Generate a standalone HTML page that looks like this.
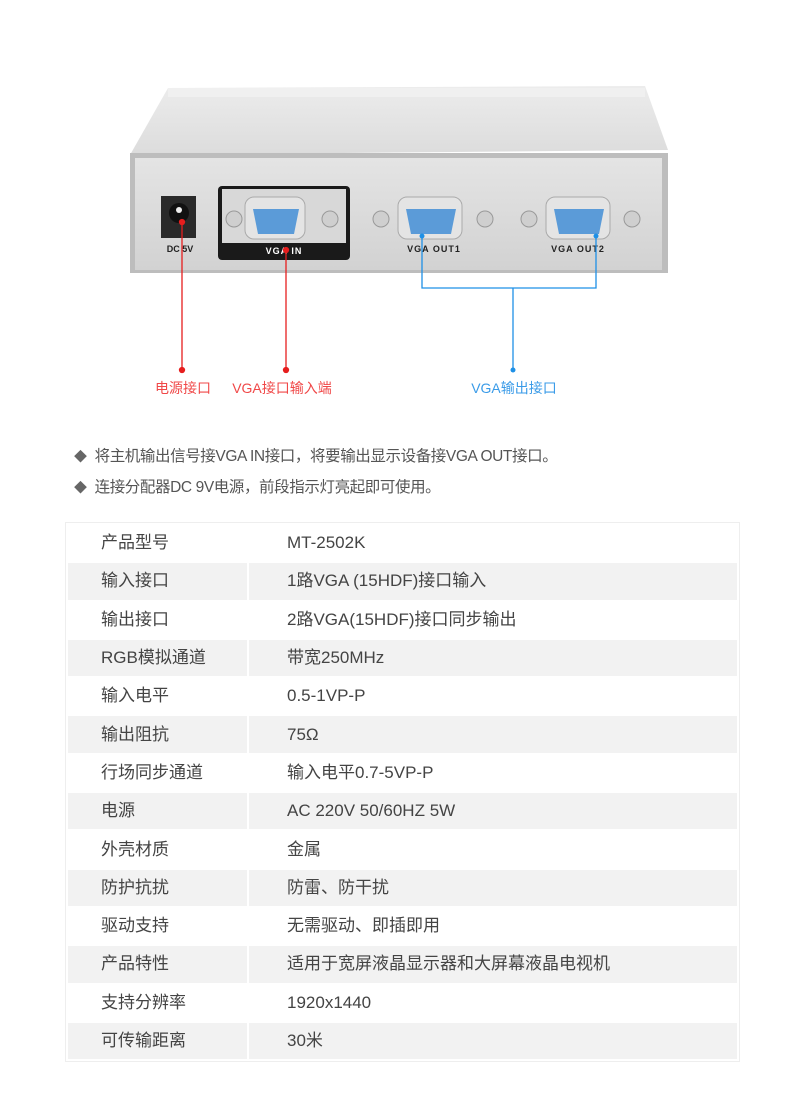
<!DOCTYPE html>
<html><head><meta charset="utf-8"><style>
body{margin:0;width:790px;height:1094px;background:#fff;font-family:"Liberation Sans","Noto Sans CJK SC",sans-serif;position:relative;overflow:hidden}
.note{position:absolute;left:74px;font-size:15.5px;color:#555;letter-spacing:-0.4px}
.note b{font-weight:normal;color:#666;font-size:13px;margin-right:8px}
table{position:absolute;left:66px;top:523px;width:673px;border-collapse:collapse;font-size:17px;color:#444;table-layout:fixed;outline:1px solid #eee}
td{height:36.3px;border:2px solid #fff;padding:0;line-height:34px;white-space:nowrap}
td:first-child{padding-left:33px}
td:last-child{padding-left:38px}
tr:nth-child(even) td{background:#f2f2f2}
</style></head><body>
<svg width="790" height="440" style="position:absolute;left:0;top:0">
<defs>
<linearGradient id="top" x1="0" y1="0" x2="0" y2="1"><stop offset="0" stop-color="#ececec"/><stop offset="1" stop-color="#dcdcdc"/></linearGradient>
<linearGradient id="face" x1="0" y1="0" x2="0" y2="1"><stop offset="0" stop-color="#e4e4e4"/><stop offset="1" stop-color="#d2d2d2"/></linearGradient>
</defs>
<polygon points="168,88 645,86 668,150 130,155" fill="url(#top)"/>
<rect x="168" y="88" width="477" height="9" fill="#f0f0f0"/>
<rect x="130" y="153" width="538" height="120" fill="#bdbdbd"/>
<rect x="135" y="158" width="527" height="112" fill="url(#face)"/>
<rect x="161" y="196" width="35" height="42" fill="#2a2a2a"/>
<circle cx="179" cy="213" r="10" fill="#111"/><circle cx="179" cy="210" r="3" fill="#eee"/>
<text x="180" y="252" font-size="9" font-weight="bold" text-anchor="middle" fill="#222" font-family="Liberation Sans">DC 5V</text>
<rect x="218" y="186" width="132" height="74" rx="4" fill="#1a1a1a"/>
<rect x="222" y="189" width="124" height="54" fill="#d8d8d8"/>
<text x="284" y="254" font-size="9" font-weight="bold" text-anchor="middle" fill="#fff" font-family="Liberation Sans" letter-spacing="1">VGA IN</text>
<g fill="#cfcfcf" stroke="#999">
<circle cx="234" cy="219" r="8"/><circle cx="330" cy="219" r="8"/>
<circle cx="381" cy="219" r="8"/><circle cx="485" cy="219" r="8"/>
<circle cx="529" cy="219" r="8"/><circle cx="632" cy="219" r="8"/>
</g>
<g stroke="#aaa" fill="#e4e4e4">
<rect x="245" y="197" width="60" height="42" rx="9"/>
<rect x="398" y="197" width="64" height="42" rx="9"/>
<rect x="546" y="197" width="64" height="42" rx="9"/>
</g>
<g fill="#5b9bd8">
<path d="M253,209 h46 l-5,25 h-36z"/>
<path d="M406,209 h50 l-5,25 h-40z"/>
<path d="M554,209 h50 l-5,25 h-40z"/>
</g>
<text x="434" y="252" font-size="9" font-weight="bold" text-anchor="middle" fill="#222" font-family="Liberation Sans" letter-spacing="1">VGA OUT1</text>
<text x="578" y="252" font-size="9" font-weight="bold" text-anchor="middle" fill="#222" font-family="Liberation Sans" letter-spacing="1">VGA OUT2</text>
<g stroke="#e61e1e" stroke-width="1.3" fill="#e61e1e">
<line x1="182" y1="222" x2="182" y2="370"/><circle cx="182" cy="222" r="2.5"/><circle cx="182" cy="370" r="2.5"/>
<line x1="286" y1="250" x2="286" y2="370"/><circle cx="286" cy="250" r="2.5"/><circle cx="286" cy="370" r="2.5"/>
</g>
<g stroke="#1e90e6" stroke-width="1.3" fill="none">
<polyline points="422,236 422,288 596,288 596,236"/>
<line x1="513" y1="288" x2="513" y2="370"/>
</g>
<g fill="#1e90e6"><circle cx="422" cy="236" r="2.5"/><circle cx="596" cy="236" r="2.5"/><circle cx="513" cy="370" r="2.5"/></g>
<text x="183" y="393" font-size="14" text-anchor="middle" fill="#f04848" font-family="Liberation Sans, Noto Sans CJK SC, sans-serif">电源接口</text>
<text x="282" y="393" font-size="14" text-anchor="middle" fill="#f04848" font-family="Liberation Sans, Noto Sans CJK SC, sans-serif">VGA接口输入端</text>
<text x="514" y="393" font-size="14" text-anchor="middle" fill="#3a9be8" font-family="Liberation Sans, Noto Sans CJK SC, sans-serif">VGA输出接口</text>
</svg>
<div class="note" style="top:444px"><b>◆</b>将主机输出信号接VGA IN接口，将要输出显示设备接VGA OUT接口。</div>
<div class="note" style="top:475px"><b>◆</b>连接分配器DC 9V电源，前段指示灯亮起即可使用。</div>
<table>
<colgroup><col style="width:181px"><col></colgroup>
<tr><td>产品型号</td><td>MT-2502K</td></tr>
<tr><td>输入接口</td><td>1路VGA (15HDF)接口输入</td></tr>
<tr><td>输出接口</td><td>2路VGA(15HDF)接口同步输出</td></tr>
<tr><td>RGB模拟通道</td><td>带宽250MHz</td></tr>
<tr><td>输入电平</td><td>0.5-1VP-P</td></tr>
<tr><td>输出阻抗</td><td>75Ω</td></tr>
<tr><td>行场同步通道</td><td>输入电平0.7-5VP-P</td></tr>
<tr><td>电源</td><td>AC 220V 50/60HZ 5W</td></tr>
<tr><td>外壳材质</td><td>金属</td></tr>
<tr><td>防护抗扰</td><td>防雷、防干扰</td></tr>
<tr><td>驱动支持</td><td>无需驱动、即插即用</td></tr>
<tr><td>产品特性</td><td>适用于宽屏液晶显示器和大屏幕液晶电视机</td></tr>
<tr><td>支持分辨率</td><td>1920x1440</td></tr>
<tr><td>可传输距离</td><td>30米</td></tr>
</table>
</body></html>
